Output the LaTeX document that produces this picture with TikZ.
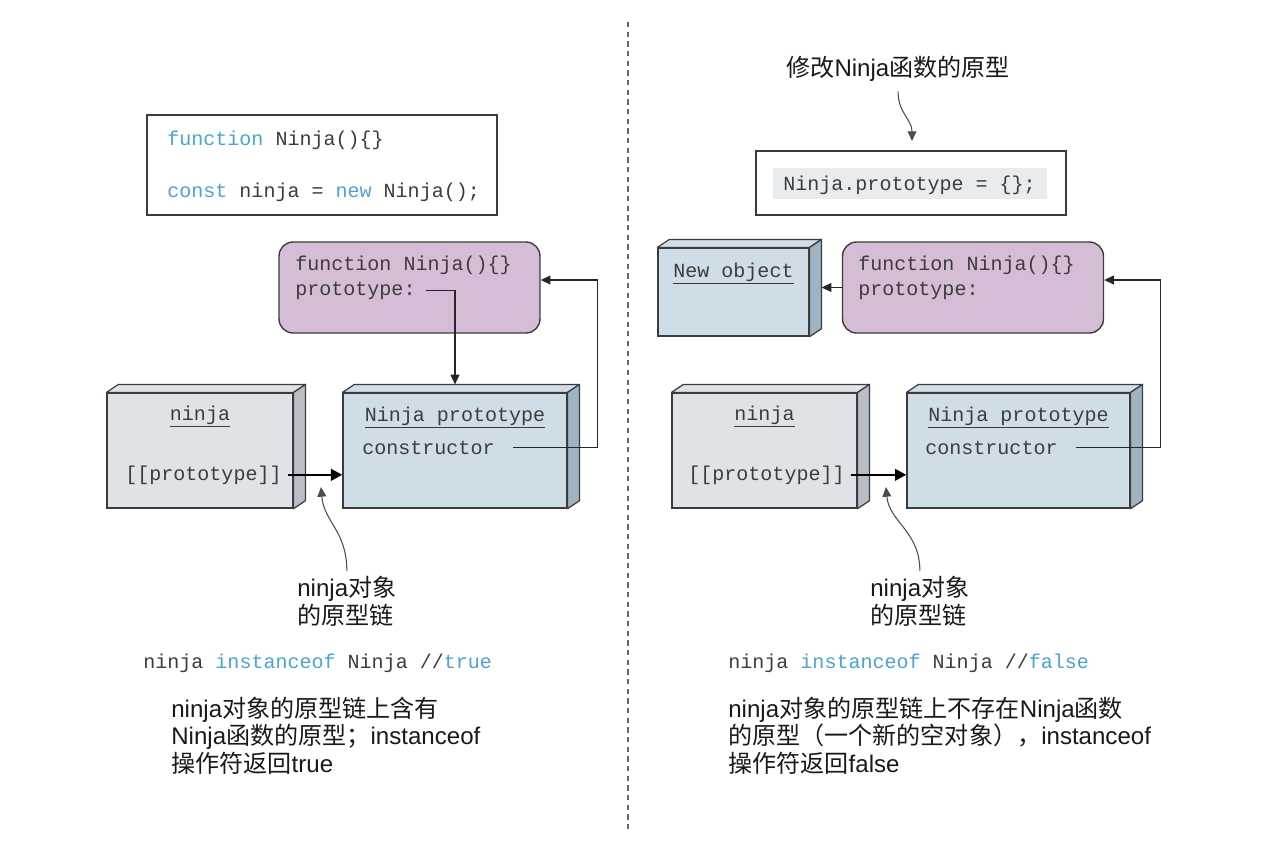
\documentclass[tikz,border=0pt]{standalone}
\usepackage{fontspec}
\setmainfont{Liberation Sans}
\setmonofont{Liberation Mono}
\newfontfamily\cjk{Noto Sans CJK SC}
\usetikzlibrary{arrows.meta}
\usetikzlibrary{calc}
\usetikzlibrary{positioning}

\definecolor{kwblue}{HTML}{4BA3D2}
\definecolor{codegrey}{HTML}{3C3C3C}
\definecolor{greyfront}{HTML}{DFE3E7}
\definecolor{greyside}{HTML}{B7BEC6}
\definecolor{bluefront}{HTML}{CFDDE7}
\definecolor{blueside}{HTML}{9FB4C3}
\definecolor{fnpurple}{HTML}{D6BDD6}
\definecolor{hlgrey}{HTML}{E8ECEF}

\newcommand{\zh}[1]{{\cjk #1}}
\newcommand{\kw}[1]{\textcolor{kwblue}{#1}}
\newcommand{\codesize}{\ttfamily\fontsize{11.4pt}{14pt}\selectfont}
\newcommand{\notesize}{\fontsize{13.7pt}{15.6pt}\selectfont}

% top and side faces of an object box
\newcommand{\boxfaces}[3]{%
  \draw[facedraw, fill=#2] (#1.north west) -- ++(12,-8) -- ($(#1.north east)+(12,-8)$) -- (#1.north east) -- cycle;
  \draw[facedraw, fill=#3] (#1.north east) -- ++(12,-8) -- ($(#1.south east)+(12,-8)$) -- (#1.south east) -- cycle;
}

\tikzset{
  codebox/.style={draw=codegrey, line width=0.9pt, fill=white, inner sep=0pt},
  fnbox/.style={draw=codegrey, line width=0.8pt, fill=fnpurple, rounded corners=8pt, inner sep=0pt, minimum width=5.22cm, minimum height=1.82cm},
  objfront/.style={draw=codegrey, line width=0.7pt, inner sep=0pt, minimum height=2.3cm},
  facedraw/.style={draw=codegrey, line width=0.7pt, line join=round},
  codetext/.style={font=\codesize, text=codegrey, inner sep=0pt, anchor=base west},
  notetext/.style={font=\notesize, text=black!90, inner sep=0pt, anchor=base west, align=left},
  linkarrow/.style={draw=black!85, line width=0.6pt, -{Triangle[length=5.5pt,width=5pt]}},
  protochain/.style={draw=black, line width=1.5pt, -{Triangle[length=6.5pt,width=6.5pt]}},
  callout/.style={draw=black!70, line width=0.6pt, -{Triangle[length=5.5pt,width=5pt]}},
}

\begin{document}
\begin{tikzpicture}[x=0.02cm, y=-0.02cm]
\useasboundingbox (0,0) rectangle (1280,845);

% divider
\draw[black!60, line width=0.8pt, dash pattern=on 3pt off 2.5pt] (628,22) -- (628,830);

% left: Ninja.prototype untouched
\node[codebox, minimum width=7cm, minimum height=2cm] (declL) at (322,165) {};
\node[codetext] (fnline) at (167,145) {\kw{function} Ninja()\{\}};
\node[codetext] (newline) at (167,197) {\kw{const} ninja = \kw{new} Ninja();};

\node[fnbox] (fnL) at (409.5,287.5) {};
\node[codetext] (fnLhead) at (295,270) {function Ninja()\{\}};
\node[codetext] (fnLproto) at (295,295) {prototype:};

\node[objfront, fill=greyfront, minimum width=3.72cm] (ninjaL) at (200,450.5) {};
\boxfaces{ninjaL}{greyfront}{greyside}
\node[codetext, anchor=base] (ninjaLname) at (200,420) {\underline{ninja}};
\node[codetext] (ninjaLslot) at (125,480) {[[prototype]]};

\node[objfront, fill=bluefront, minimum width=4.48cm] (protoL) at (455,450.5) {};
\boxfaces{protoL}{bluefront}{blueside}
\node[codetext, anchor=base] (protoLname) at (455,421) {\underline{Ninja prototype}};
\node[codetext] (protoLctor) at (362,454) {constructor};

\draw[linkarrow] ([xshift=0.2cm]fnLproto.east) -| ([yshift=0.16cm]protoL.north);
\draw[linkarrow] ([xshift=0.36cm]protoLctor.east) -- ++(85,0) |- ([yshift=0.15cm]fnL.east);
\draw[protochain] ([xshift=0.12cm]ninjaLslot.east) -- (ninjaLslot.east -| protoL.west);

\node[notetext] (chainL) at (297,624) {ninja\zh{对象}\\\zh{的原型链}};
\coordinate (chainLtip) at (321,487);
\draw[callout] ([yshift=0.1cm]chainL.north) .. controls +(0,-40) and +(3,35) .. (chainLtip);

\node[codetext] (testL) at (143,668) {ninja \kw{instanceof} Ninja //\kw{true}};
\node[notetext] (resultL) at (171,772) {ninja\zh{对象的原型链上含有}\\Ninja\zh{函数的原型；}instanceof\\\zh{操作符返回}true};

% right: Ninja.prototype replaced
\node[notetext] (changeR) at (786,76) {\zh{修改}Ninja\zh{函数的原型}};
\node[codebox, minimum width=6.2cm, minimum height=1.28cm] (declR) at (911,183) {};
\node[fill=hlgrey, minimum width=5.48cm, minimum height=0.62cm, inner sep=0pt] (hlR) at (910,183.5) {};
\node[codetext] (assignR) at (783,190) {Ninja.prototype = \{\};};
\coordinate (changeRtip) at (912,141);
\draw[callout] ([yshift=-0.2cm]changeR.south) .. controls +(0,22) and +(0,-22) .. (changeRtip);

\node[objfront, fill=bluefront, minimum width=3.02cm, minimum height=1.76cm] (newobjR) at (733.5,292) {};
\boxfaces{newobjR}{bluefront}{blueside}
\node[codetext] (newobjRname) at (673,277) {\underline{New object}};

\node[fnbox] (fnR) at (973,287.5) {};
\node[codetext] (fnRhead) at (858,270) {function Ninja()\{\}};
\node[codetext] (fnRproto) at (858,295) {prototype:};
\draw[linkarrow] (fnR.west) -- ($(newobjR.east |- fnR.west)+(12,0)$);

\node[objfront, fill=greyfront, minimum width=3.7cm] (ninjaR) at (764.5,450.5) {};
\boxfaces{ninjaR}{greyfront}{greyside}
\node[codetext, anchor=base] (ninjaRname) at (764.5,420) {\underline{ninja}};
\node[codetext] (ninjaRslot) at (688,480) {[[prototype]]};

\node[objfront, fill=bluefront, minimum width=4.46cm] (protoR) at (1018.5,450.5) {};
\boxfaces{protoR}{bluefront}{blueside}
\node[codetext, anchor=base] (protoRname) at (1018.5,421) {\underline{Ninja prototype}};
\node[codetext] (protoRctor) at (925,454) {constructor};

\draw[linkarrow] ([xshift=0.36cm]protoRctor.east) -- ++(85,0) |- ([yshift=0.15cm]fnR.east);
\draw[protochain] ([xshift=0.12cm]ninjaRslot.east) -- (ninjaRslot.east -| protoR.west);

\node[notetext] (chainR) at (870,624) {ninja\zh{对象}\\\zh{的原型链}};
\coordinate (chainRtip) at (886,487);
\draw[callout] ([yshift=0.1cm]chainR.north) .. controls +(0,-40) and +(3,35) .. (chainRtip);

\node[codetext] (testR) at (728,668) {ninja \kw{instanceof} Ninja //\kw{false}};
\node[notetext] (resultR) at (728,772) {ninja\zh{对象的原型链上不存在}Ninja\zh{函数}\\\zh{的原型（一个新的空对象），}instanceof\\\zh{操作符返回}false};
\end{tikzpicture}
\end{document}
